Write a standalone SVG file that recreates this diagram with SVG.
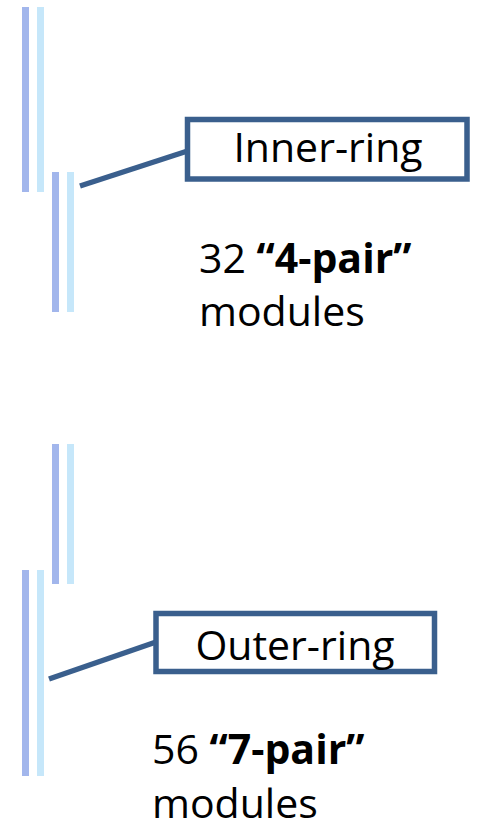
<svg xmlns="http://www.w3.org/2000/svg" width="480" height="829" viewBox="0 0 480 829">
<style>
.dark{fill:#A2B6EC}
.light{fill:#C6E7FA}
.box{fill:#FFFFFF;stroke:#3A5F8D;stroke-width:5.5}
.conn{stroke:#3A5F8D;stroke-width:5.5;fill:none}
.t{font-family:"Open Sans","Noto Sans",sans-serif;font-size:41px;fill:#000000}
.b{font-weight:bold}
</style>
<rect width="480" height="829" fill="#FFFFFF"/>
<g id="bars-inner-upper">
<rect class="dark" x="22" y="7" width="7" height="185"/>
<rect class="light" x="37" y="7" width="7" height="185"/>
</g>
<g id="bars-inner-lower">
<rect class="dark" x="52" y="172" width="7" height="140"/>
<rect class="light" x="67" y="172" width="7" height="140"/>
</g>
<g id="bars-outer-upper">
<rect class="dark" x="52" y="444" width="7" height="140"/>
<rect class="light" x="67" y="444" width="7" height="140"/>
</g>
<g id="bars-outer-lower">
<rect class="dark" x="22" y="570" width="7" height="206"/>
<rect class="light" x="37" y="570" width="7" height="206"/>
</g>
<g id="connectors">
<line class="conn" x1="80" y1="186" x2="187.5" y2="151"/>
<line class="conn" x1="49" y1="679" x2="156" y2="642"/>
</g>
<g id="inner-ring">
<rect class="box" x="187.5" y="119.5" width="279.5" height="59.5"/>
<text class="t" x="328" y="162" text-anchor="middle">Inner-ring</text>
</g>
<g id="inner-desc">
<text class="t" x="199" y="273">32 <tspan class="b">“4-pair”</tspan></text>
<text class="t" x="199" y="326">modules</text>
</g>
<g id="outer-ring">
<rect class="box" x="156" y="613.5" width="278.5" height="58"/>
<text class="t" x="295" y="660" text-anchor="middle">Outer-ring</text>
</g>
<g id="outer-desc">
<text class="t" x="152" y="764">56 <tspan class="b">“7-pair”</tspan></text>
<text class="t" x="152" y="818">modules</text>
</g>
</svg>
